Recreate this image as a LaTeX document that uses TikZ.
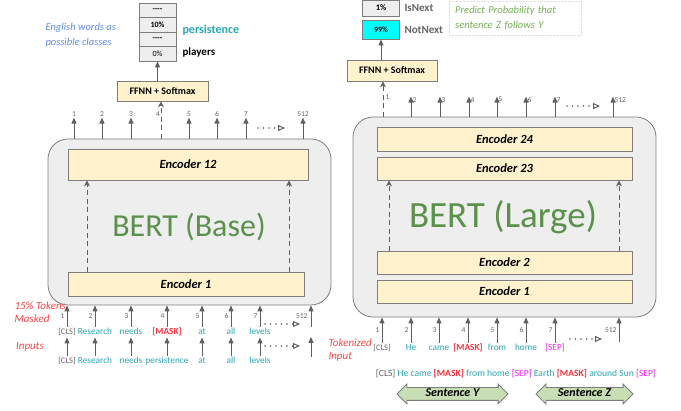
\documentclass[tikz,border=0pt]{standalone}
\usepackage{fontspec}
\setmainfont{Carlito}
\usetikzlibrary{positioning}
\usetikzlibrary{arrows.meta}
\usetikzlibrary{shapes.arrows}
\definecolor{linegray}{RGB}{95,95,95}
\definecolor{boxgray}{RGB}{125,125,125}
\definecolor{bertfill}{RGB}{238,238,238}
\definecolor{encfill}{RGB}{255,242,204}
\definecolor{bertgreen}{RGB}{90,145,75}
\definecolor{tokteal}{RGB}{40,165,180}
\definecolor{maskred}{RGB}{250,50,60}
\definecolor{sepmag}{RGB}{240,30,240}
\definecolor{clsgray}{RGB}{100,100,100}
\definecolor{notered}{RGB}{250,70,70}
\definecolor{noteblue}{RGB}{95,140,230}
\definecolor{notegreen}{RGB}{115,175,80}
\definecolor{sentfill}{RGB}{200,222,180}
\definecolor{probcyan}{RGB}{0,255,255}
\tikzset{
    arr/.style={draw=linegray, line width=1pt, -{Triangle[length=6pt,width=5pt]}},
    darr/.style={draw=linegray, line width=1pt, dash pattern=on 5pt off 3.5pt, -{Stealth[length=6pt,width=6pt]}},
    dotarr/.style={draw=linegray, line width=1.6pt, line cap=round, dash pattern=on 0pt off 5.5pt, -{Triangle[open,length=7pt,width=6pt,line width=1pt]}},
    bertbox/.style={draw=boxgray, fill=bertfill, rounded corners=20pt, line width=0.8pt},
    enc/.style={draw=boxgray, fill=encfill, line width=0.8pt, font=\bfseries\itshape\fontsize{12.5}{14}\selectfont},
    ffnn/.style={draw=boxgray, fill=encfill, line width=0.8pt, font=\bfseries\fontsize{10}{12}\selectfont},
    cell/.style={draw=boxgray, fill=bertfill, line width=0.8pt, minimum width=37pt, inner sep=0pt, font=\bfseries\fontsize{8}{9}\selectfont},
    tok/.style={text=tokteal, inner sep=1pt, text height=6.5pt, text depth=2pt, font=\fontsize{9.3}{10}\selectfont},
    clstok/.style={tok, text=clsgray, font=\fontsize{8.5}{9}\selectfont},
    masktok/.style={tok, text=maskred, font=\bfseries\fontsize{9.3}{10}\selectfont},
    septok/.style={tok, text=sepmag},
    num/.style={text=clsgray, inner sep=1pt, font=\fontsize{7.5}{8}\selectfont},
    note/.style={text=notered, align=left, font=\itshape\fontsize{11}{13}\selectfont},
    sentarrow/.style={double arrow, double arrow head extend=3.5pt, draw=boxgray, fill=sentfill, inner sep=1pt, text height=8pt, text depth=2pt, line width=0.8pt, font=\bfseries\itshape\fontsize{12}{13}\selectfont}
}
\begin{document}
\begin{tikzpicture}[x=1pt, y=-1pt]
    \useasboundingbox (0,0) rectangle (681,411);

    % BERT (Base)
    \node[bertbox, minimum width=283pt, minimum height=166pt] (base) at (189.5,222) {};
    \node[enc, minimum width=240pt, minimum height=31pt] (b12) at (188,164.5) {Encoder 12};
    \node[enc, minimum width=236pt, minimum height=24pt] (b1) at (186,284) {Encoder 1};
    \node[text=bertgreen, font=\fontsize{32}{34}\selectfont] (basetitle) at (189,227) {BERT (Base)};
    \draw[darr] (87,0 |- b1.north) -- (87,0 |- b12.south);
    \draw[darr] (289,0 |- b1.north) -- (289,0 |- b12.south);

    % Masked LM head
    \node[ffnn, minimum width=91pt, minimum height=20pt] (ffl) at (162.5,91) {FFNN + Softmax};
    \node[cell, minimum height=14.5pt] (s1) at (157.5,10.25) {{-}{-}{-}{-}};
    \node[cell, minimum height=14.5pt] (s2) at (157.5,24.75) {10\%};
    \node[cell, minimum height=14.5pt] (s3) at (157.5,39.25) {{-}{-}{-}{-}};
    \node[cell, minimum height=14.5pt, font=\fontsize{8}{9}\selectfont] (s4) at (157.5,53.75) {0\%};
    \node[anchor=west, text=tokteal, font=\bfseries\fontsize{12}{14}\selectfont] (wpers) at (179,30) {persistence};
    \node[anchor=west, font=\bfseries\fontsize{11}{13}\selectfont] (wplay) at (179,53) {players};
    \node[note, text=noteblue, anchor=west, font=\itshape\fontsize{10.5}{14.5}\selectfont] (classes) at (42,35) {English words as\\possible classes};
    \draw[arr] (ffl.north -| s4.south) -- (s4.south);

    % Base outputs
    \foreach \k/\x in {1/74,2/102,3/131,5/189,6/217,7/246,512/303}
        \draw[arr] (\x,0 |- base.north) -- ++(0,-21) node[num, above=0pt] {\k};
    \draw[darr] (161,0 |- base.north) -- (161,0 |- ffl.south);
    \node[num] (n4) at (158,114) {4};
    \coordinate (ot1) at (258,128);
    \coordinate (ot2) at (285,128);
    \draw[dotarr] (ot1) -- (ot2);

    % Base inputs
    \node[clstok] (m1) at (67,332) {[CLS]};
    \node[tok] (m2) at (95,332) {Research};
    \node[tok] (m3) at (131,332) {needs};
    \node[masktok] (m4) at (167,332) {[MASK]};
    \node[tok] (m5) at (202,332) {at};
    \node[tok] (m6) at (231,332) {all};
    \node[tok] (m7) at (260,332) {levels};
    \node[clstok] (i1) at (67,361) {[CLS]};
    \node[tok] (i2) at (95,361) {Research};
    \node[tok] (i3) at (131,361) {needs};
    \node[tok] (i4) at (167,361) {persistence};
    \node[tok] (i5) at (202,361) {at};
    \node[tok] (i6) at (231,361) {all};
    \node[tok] (i7) at (260,361) {levels};
    \foreach \k in {1,...,7} {
        \draw[arr] (i\k) -- (m\k);
        \draw[arr] (m\k) -- (m\k |- base.south) node[num, midway, left=1pt] {\k};
    }
    \coordinate (pa) at (311,357);
    \coordinate (pb) at (311,337);
    \coordinate (pc) at (311,327);
    \draw[arr] (pa) -- (pb);
    \draw[arr] (pc) -- (pc |- base.south) node[num, midway, left=2pt] {512};
    \coordinate (da1) at (265,346);
    \coordinate (da2) at (300,346);
    \coordinate (db1) at (265,324);
    \coordinate (db2) at (300,324);
    \draw[dotarr] (da1) -- (da2);
    \draw[dotarr] (db1) -- (db2);
    \node[note] (masked) at (11,312) [anchor=west] {15\% Tokens\\Masked};
    \node[note] (inputs) at (30,347) {Inputs};

    % BERT (Large)
    \node[bertbox, minimum width=303pt, minimum height=200pt] (large) at (504.5,217) {};
    \node[enc, minimum width=255pt, minimum height=24pt] (l24) at (504.5,139) {Encoder 24};
    \node[enc, minimum width=255pt, minimum height=23pt] (l23) at (504.5,168.5) {Encoder 23};
    \node[enc, minimum width=255pt, minimum height=23pt] (l2) at (504.5,262.5) {Encoder 2};
    \node[enc, minimum width=255pt, minimum height=23pt] (l1) at (504.5,291.5) {Encoder 1};
    \node[text=bertgreen, font=\fontsize{37}{40}\selectfont] (largetitle) at (503,217) {BERT (Large)};
    \draw[darr] (389,0 |- l2.north) -- (389,0 |- l23.south);
    \draw[darr] (619,0 |- l2.north) -- (619,0 |- l23.south);

    % Next sentence head
    \node[ffnn, minimum width=90pt, minimum height=21pt] (ffr) at (392,70.5) {FFNN + Softmax};
    \node[cell, minimum height=16pt, font=\bfseries\fontsize{8.5}{9}\selectfont] (r1) at (381,8) {1\%};
    \node[cell, fill=probcyan, minimum height=19pt] (r2) at (381,29.5) {99\%};
    \node[anchor=west, text=clsgray, font=\bfseries\fontsize{11}{13}\selectfont] (isnext) at (401,8) {IsNext};
    \node[anchor=west, text=clsgray, font=\bfseries\fontsize{11}{13}\selectfont] (notnext) at (401,30) {NotNext};
    \node[note, text=notegreen, anchor=west, draw=black!12, densely dotted, text width=120pt, inner xsep=6pt, minimum height=34pt, font=\itshape\fontsize{10.5}{14.5}\selectfont] (predict) at (449,18) {Predict Probability that\\sentence Z follows Y};
    \draw[arr] (r2.south |- ffr.north) -- (r2.south);

    % Large outputs
    \foreach \k/\x in {2/411,3/440,4/469,5/497,6/526,7/555,512/613}
        \draw[arr] (\x,0 |- large.north) -- ++(0,-20) node[num, pos=0.85, right=0pt] {\k};
    \draw[darr] (383,0 |- large.north) -- (383,0 |- ffr.south) node[num, pos=0.55, right=1pt] {1};
    \coordinate (lt1) at (567,106);
    \coordinate (lt2) at (600,106);
    \draw[dotarr] (lt1) -- (lt2);

    % Large inputs
    \node[clstok] (t1) at (382,348) {[CLS]};
    \node[tok] (t2) at (411,348) {He};
    \node[tok] (t3) at (439,348) {came};
    \node[masktok] (t4) at (468,348) {[MASK]};
    \node[tok] (t5) at (497,348) {from};
    \node[tok] (t6) at (526,348) {home};
    \node[septok] (t7) at (555,348) {[SEP]};
    \foreach \k in {1,...,7}
        \draw[arr] (t\k) -- (t\k |- large.south) node[num, midway, left=1pt] {\k};
    \coordinate (pl) at (619,342);
    \draw[arr] (pl) -- (pl |- large.south) node[num, midway, left=1pt] {512};
    \coordinate (lb1) at (570,339);
    \coordinate (lb2) at (602,339);
    \draw[dotarr] (lb1) -- (lb2);
    \node[note, anchor=west] (tokinput) at (325,350) {Tokenized\\Input};

    % Sentence pair
    \node[tok, font=\fontsize{9.6}{10}\selectfont] (pair) at (516,374) {\textcolor{clsgray}{[CLS]} He came \textcolor{maskred}{\bfseries[MASK]} from home \textcolor{sepmag}{[SEP]} Earth \textcolor{maskred}{\bfseries[MASK]} around Sun \textcolor{sepmag}{[SEP]}};
    \node[sentarrow, minimum height=111pt] (senty) at (452.5,394) {Sentence Y};
    \node[sentarrow, minimum height=97pt] (sentz) at (584.5,394) {Sentence Z};
\end{tikzpicture}
\end{document}
